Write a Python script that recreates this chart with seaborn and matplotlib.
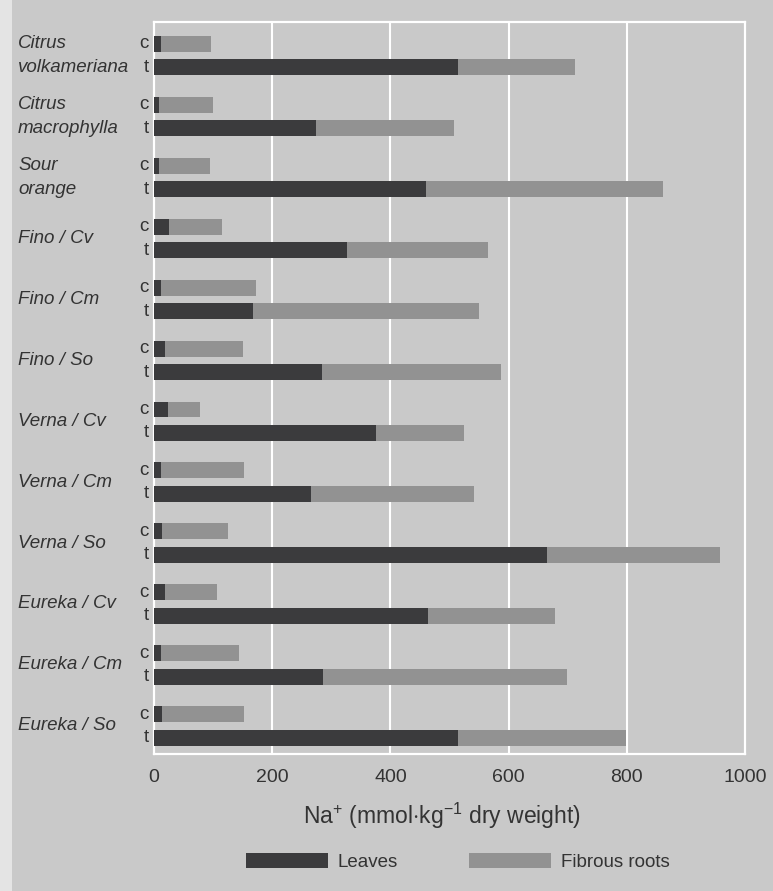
import numpy as np
import pandas as pd
import matplotlib
matplotlib.use("Agg")
import matplotlib.pyplot as plt
from matplotlib.patches import Patch, Rectangle
import seaborn as sns

# Na+ content (mmol/kg dry weight) per rootstock / scion combination,
# control (c) and salt-treated (t) plants
groups = ["Citrus\nvolkameriana", "Citrus\nmacrophylla", "Sour\norange",
          "Fino / Cv", "Fino / Cm", "Fino / So",
          "Verna / Cv", "Verna / Cm", "Verna / So",
          "Eureka / Cv", "Eureka / Cm", "Eureka / So"]
treatments = ["c", "t"]
leaves_c = [11, 9, 9, 25, 12, 18, 23, 11, 14, 18, 12, 13]
roots_c = [85, 90, 85, 90, 160, 132, 54, 142, 112, 88, 132, 140]
leaves_t = [514, 274, 460, 326, 168, 285, 375, 265, 665, 463, 286, 515]
roots_t = [198, 234, 401, 239, 382, 302, 149, 277, 293, 215, 413, 283]
x_ticks = [0, 200, 400, 600, 800, 1000]
series_names = ["Leaves", "Fibrous roots"]

BG = "#c9c9c9"
DARK = "#3b3b3d"
LIGHT = "#929292"
TXT = "#333333"
T_OFFSET = 0.385

sns.set_theme(style="darkgrid")
plt.rcParams["font.family"] = ["Liberation Sans", "DejaVu Sans"]
plt.rcParams["mathtext.fontset"] = "custom"
plt.rcParams["mathtext.rm"] = "Liberation Sans"
plt.rcParams["mathtext.it"] = "Liberation Sans:italic"

rows = []
for i, g in enumerate(groups):
    rows.append({"group": g, "trt": "c", "pos": i,
                 "leaves": leaves_c[i], "total": leaves_c[i] + roots_c[i]})
    rows.append({"group": g, "trt": "t", "pos": i + T_OFFSET,
                 "leaves": leaves_t[i], "total": leaves_t[i] + roots_t[i]})
df = pd.DataFrame(rows)

fig = plt.figure(figsize=(7.73, 8.91), dpi=100, facecolor=BG)
fig.patches.append(Rectangle((0, 0), 12 / 773, 1, transform=fig.transFigure,
                             facecolor="#e4e4e4", edgecolor="none", zorder=-1))
ax = fig.add_axes([154 / 773, 1 - 754 / 891, 591 / 773, 732 / 891])
ax.set_facecolor(BG)

# roots stacked on leaves: draw the full total first, then leaves over it
sns.barplot(data=df, x="total", y="pos", orient="y", native_scale=True,
            width=0.68, color=LIGHT, saturation=1, errorbar=None,
            linewidth=0, ax=ax, zorder=3)
sns.barplot(data=df, x="leaves", y="pos", orient="y", native_scale=True,
            width=0.68, color=DARK, saturation=1, errorbar=None,
            linewidth=0, ax=ax, zorder=4)

ax.set_xlim(0, 1000)
ax.set_ylim(11 + T_OFFSET + 0.27, -0.36)
ax.set_xticks(x_ticks)
ax.set_xticklabels([str(v) for v in x_ticks], fontsize=14, color=TXT)
ax.tick_params(axis="x", length=0, pad=11)
ax.set_yticks([])
ax.set_ylabel("")
ax.grid(False)
for v in x_ticks[1:-1]:
    ax.axvline(v, color="white", lw=1.5, zorder=1)
for s in ax.spines.values():
    s.set_visible(True)
    s.set_color("white")
    s.set_linewidth(1.6)

ytr = ax.get_yaxis_transform()
for i, g in enumerate(groups):
    for j, t in enumerate(treatments):
        ax.text(-0.009, i + j * T_OFFSET, t, transform=ytr, ha="right",
                va="center", fontsize=13.5, color=TXT)
    parts = g.split("\n")
    if len(parts) == 2:
        for j, p in enumerate(parts):
            ax.text(-0.230, i + j * T_OFFSET, p, transform=ytr, ha="left",
                    va="center", fontsize=13.5, style="italic", color=TXT)
    else:
        ax.text(-0.230, i + T_OFFSET / 2, g, transform=ytr, ha="left",
                va="center", fontsize=13.5, style="italic", color=TXT)

ax.set_xlabel(r"Na$^{+}$ (mmol$\cdot$kg$^{-1}$ dry weight)", fontsize=16.5,
              color=TXT)
ax.xaxis.set_label_coords((441.5 - 154) / 591, -(801 - 754) / 732)

handles = [Patch(facecolor=DARK, edgecolor="none"),
           Patch(facecolor=LIGHT, edgecolor="none")]
fig.legend(handles, series_names, ncol=2, frameon=False, loc="center",
           bbox_to_anchor=(457.5 / 773, 1 - 862 / 891), fontsize=13.5,
           handlelength=4.4, handleheight=0.8, handletextpad=0.5,
           columnspacing=3.8, labelcolor=TXT)

fig.savefig("out.png", dpi=100, facecolor=BG)
